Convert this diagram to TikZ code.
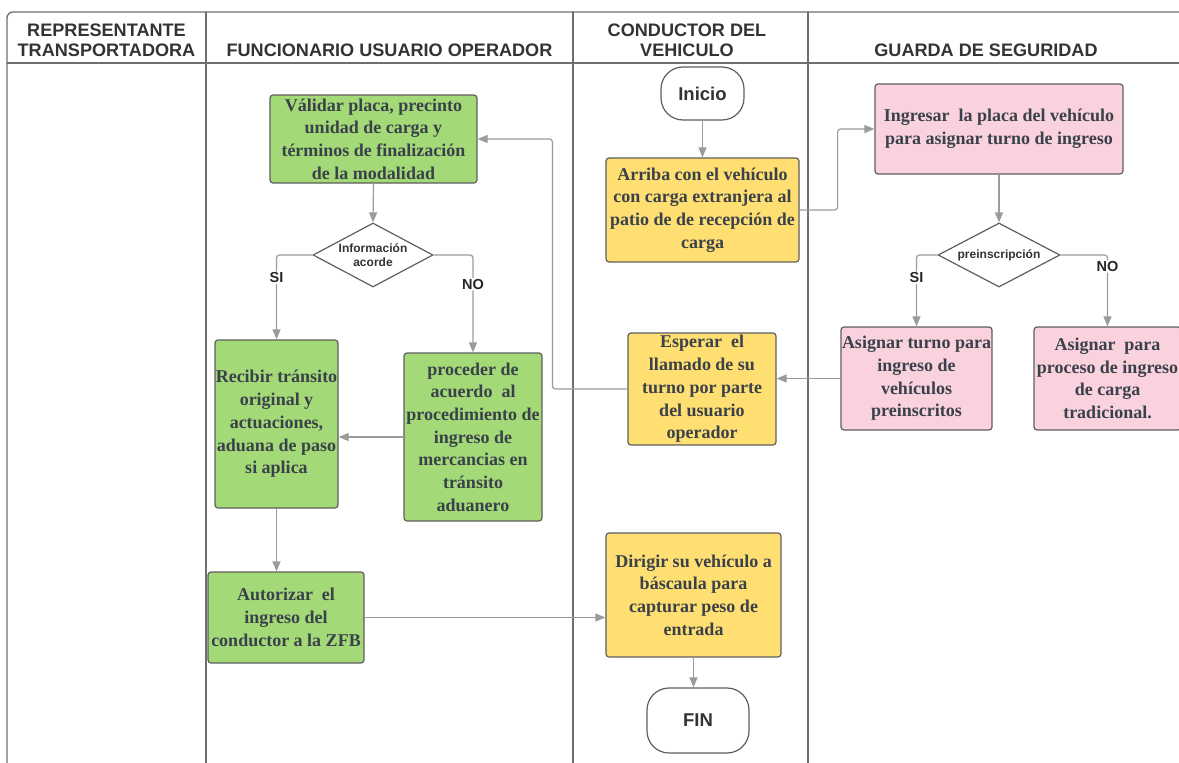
\documentclass[tikz,border=0pt]{standalone}
\usepackage{fontspec}
\setmainfont{Liberation Serif}
\setsansfont{Liberation Sans}
\usetikzlibrary{arrows.meta,shapes.geometric}
\definecolor{verde}{HTML}{A3D977}
\definecolor{amarillo}{HTML}{FFDF71}
\definecolor{rosa}{HTML}{F9D2DE}
\definecolor{borde}{HTML}{5E5E5E}
\definecolor{linea}{HTML}{9B9B9B}
\definecolor{carril}{HTML}{6E6E6E}
\definecolor{texto}{HTML}{3A414A}
\newcommand{\cajafont}{\fontsize{18}{22.7}\selectfont\bfseries}
\newcommand{\titfont}{\fontsize{18.1}{20}\selectfont\sffamily\bfseries}
\tikzset{
  caja/.style={draw=borde, line width=1.2pt, rounded corners=3pt, inner sep=0pt,
    align=center, text=texto, font=\cajafont},
  cajaV/.style={caja, fill=verde},
  cajaA/.style={caja, fill=amarillo},
  cajaR/.style={caja, fill=rosa},
  terminal/.style={draw=borde, line width=1.2pt, rounded corners=22pt, fill=white,
    text=black!80, font=\fontsize{18.5}{20}\selectfont\sffamily\bfseries},
  decision/.style={diamond, aspect=1.9, draw=borde, line width=1.2pt, fill=white, inner sep=0pt,
    align=center, text=black!80, font=\fontsize{12}{14.3}\selectfont\sffamily\bfseries},
  etiqueta/.style={fill=white, inner sep=1pt, text=black!85,
    font=\fontsize{14.5}{16}\selectfont\sffamily\bfseries},
  flecha/.style={draw=linea, line width=1.2pt, rounded corners=3pt,
    -{Triangle[length=10pt,width=8pt]}},
  lane/.style={draw=carril, line width=1.3pt},
  titulo/.style={align=center, text=black!80, font=\titfont}
}

\begin{document}
\begin{tikzpicture}[x=1pt,y=-1pt,line cap=round,line join=round]
    \useasboundingbox (0,0) rectangle (1179,763);

    % Lanes
    \draw[lane, rounded corners=6pt] (1179,12) -- (7,12) -- (7,763);
    \draw[lane] (7,63) -- (1179,63);
    \foreach \x in {206,573,808} {
        \draw[lane] (\x,12) -- (\x,763);
    }
    \node[titulo] (T1) at (106.5,40.5) {REPRESENTANTE\\TRANSPORTADORA};
    \node[titulo] (T2) at (389.5,50) {FUNCIONARIO USUARIO OPERADOR};
    \node[titulo] (T3) at (687,40.5) {CONDUCTOR DEL\\VEHICULO};
    \node[titulo] (T4) at (986,50) {GUARDA DE SEGURIDAD};

    % Nodes
    \node[terminal, minimum width=83pt, minimum height=53pt] (Ini) at (702.5,93.5) {Inicio};
    \node[cajaA, minimum width=193pt, minimum height=104pt] (Arr) at (702.5,210)
        {Arriba con el vehículo\\con carga extranjera al\\patio de de recepción de\\carga};
    \node[cajaR, minimum width=248pt, minimum height=90pt] (Ing) at (999,129)
        {Ingresar~ la placa del vehículo\\para asignar turno de ingreso};
    \node[decision, minimum width=122pt, minimum height=64pt] (Pre) at (999,255) {preinscripción};
    \node[cajaR, minimum width=151pt, minimum height=103pt] (Tur) at (916.5,378.5)
        {Asignar turno para\\ingreso de\\vehículos\\preinscritos};
    \node[cajaR, minimum width=147pt, minimum height=103pt] (Tra) at (1107.5,378.5)
        {Asignar~ para\\proceso de ingreso\\de carga\\tradicional.};
    \node[cajaA, minimum width=148pt, minimum height=112pt] (Esp) at (702,389)
        {Esperar~ el\\llamado de su\\turno por parte\\del usuario\\operador};
    \node[cajaV, minimum width=207pt, minimum height=88pt] (Val) at (373.5,139)
        {Válidar placa, precinto\\unidad de carga y\\términos de finalización\\de la modalidad};
    \node[decision, minimum width=120pt, minimum height=64pt] (Inf) at (373,255) {Información\\acorde};
    \node[cajaV, minimum width=123pt, minimum height=168pt] (Rec) at (276.5,424)
        {Recibir tránsito\\original y\\actuaciones,\\aduana de paso\\si aplica};
    \node[cajaV, minimum width=138pt, minimum height=168pt] (Pro) at (473,437)
        {proceder de\\acuerdo~ al\\procedimiento de\\ingreso de\\mercancias en\\tránsito\\aduanero};
    \node[cajaV, minimum width=156pt, minimum height=91pt] (Aut) at (286,617.5)
        {Autorizar~ el\\ingreso del\\conductor a la ZFB};
    \node[cajaA, minimum width=175pt, minimum height=124pt] (Dir) at (693.5,595)
        {Dirigir su vehículo a\\báscaula para\\capturar peso de\\entrada};
    \node[terminal, minimum width=102pt, minimum height=65pt] (Fin) at (698,720.5) {FIN};

    % Edges
    \foreach \source/\target in {Ini/Arr, Ing/Pre, Val/Inf} {
        \draw[flecha] (\source.south) -- (\target.north);
    }
    \draw[flecha] (Arr.east) -- ++(38,0) |- (Ing.west);
    \draw[flecha] (Pre.west) -| node[etiqueta, pos=0.66] {SI} (Tur.north);
    \draw[flecha] (Pre.east) -| node[etiqueta, pos=0.58] {NO} (Tra.north);
    \draw[flecha] (Tur.west) -- (Tur.west -| Esp.east);
    \draw[flecha] (Esp.west) -- ++(-75,0) |- (Val.east);
    \draw[flecha] (Inf.west) -| node[etiqueta, pos=0.635] {SI} (Rec.north);
    \draw[flecha] (Inf.east) -| node[etiqueta, pos=0.65] {NO} (Pro.north);
    \draw[flecha] (Pro.west) -- (Rec.east |- Pro.west);
    \draw[flecha] (Rec.south) -- (Rec.south |- Aut.north);
    \draw[flecha] (Aut.east) -- (Aut.east -| Dir.west);
    \draw[flecha] (Dir.south) -- (Dir.south |- Fin.north);
\end{tikzpicture}
\end{document}
